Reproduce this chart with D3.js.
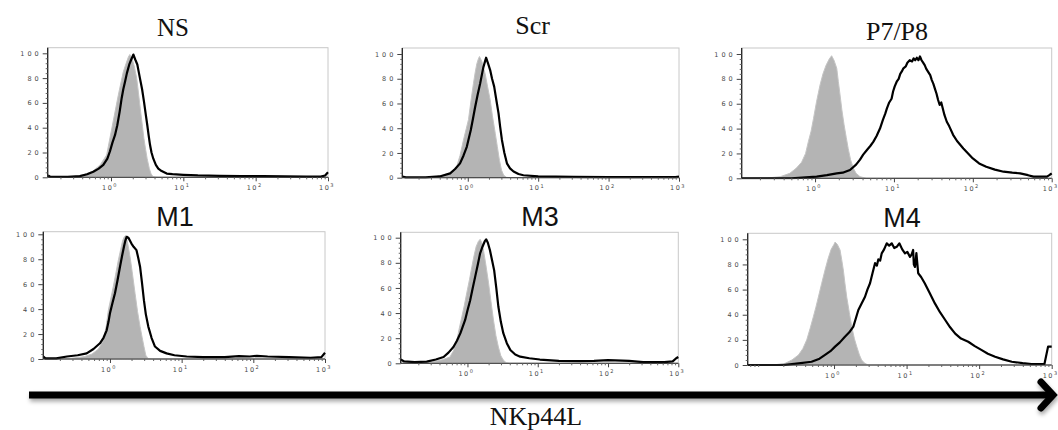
<!DOCTYPE html>
<html>
<head>
<meta charset="utf-8">
<script src="https://cdnjs.cloudflare.com/ajax/libs/d3/7.8.5/d3.min.js"></script>
<style>
  html, body { margin: 0; padding: 0; background: #fff; }
  svg { display: block; }
</style>
</head>
<body>
<svg id="chart" width="1058" height="430"></svg>
<script>
// ---------- DATA (x = log10 of fluorescence, y = % of max) ----------
const panelTitles = ["NS", "Scr", "P7/P8", "M1", "M3", "M4"];
const xTickExponents = [0, 1, 2, 3];
const yTickValues = [0, 20, 40, 60, 80, 100];
const axisTitle = "NKp44L";

const nsIsotype = [[-0.87,0],[-0.5,0.5],[-0.38,2],[-0.25,5],[-0.15,10],[-0.06,18],[0.01,39],[0.06,54],[0.10,66],[0.14,77],[0.17,85],[0.21,92],[0.24,97],[0.26,99],[0.29,96],[0.32,90],[0.355,80],[0.38,68],[0.41,53],[0.435,41],[0.456,31],[0.48,22],[0.50,15],[0.53,7],[0.553,3],[0.58,0.5],[0.65,0],[3,0]];
const nsStain = [[-0.87,1.5],[-0.84,0.5],[-0.6,0.3],[-0.43,1],[-0.33,2.5],[-0.245,4.5],[-0.17,7],[-0.106,10],[-0.05,15],[-0.014,21],[0.02,28],[0.055,34],[0.087,42],[0.12,53],[0.148,64],[0.17,71],[0.194,77],[0.22,84],[0.253,91],[0.28,95],[0.31,99],[0.335,95],[0.364,91],[0.38,86],[0.40,80],[0.43,71],[0.456,61],[0.48,51],[0.502,42],[0.52,34],[0.54,26],[0.56,20],[0.585,15],[0.62,10],[0.654,7],[0.7,5],[0.77,3],[0.85,2.5],[1.0,2],[1.2,1.5],[1.5,1.2],[1.8,1],[2.1,1],[2.4,0.8],[2.7,0.6],[2.9,0.5],[2.96,1.5],[3,4]];

const scrIsotype = [[-0.93,0],[-0.5,0.3],[-0.35,2],[-0.25,4],[-0.157,9],[-0.11,18],[-0.063,30],[-0.02,40],[0.01,47],[0.045,62],[0.08,76],[0.105,85],[0.128,92],[0.15,96],[0.166,98],[0.2,94],[0.247,84],[0.28,74],[0.318,63],[0.35,50],[0.39,36],[0.42,25],[0.45,14],[0.48,6],[0.51,2],[0.55,0.3],[0.6,0],[3,0]];
const scrStain = [[-0.93,1],[-0.88,0.3],[-0.6,0.2],[-0.4,1],[-0.25,3.5],[-0.18,7],[-0.11,11.6],[-0.06,18],[-0.014,25],[0.043,38.5],[0.075,48],[0.104,57],[0.14,67],[0.175,76],[0.22,89],[0.245,94],[0.26,97],[0.29,92],[0.318,87],[0.345,80],[0.375,73.6],[0.405,63],[0.437,52],[0.46,41],[0.485,30.5],[0.52,20],[0.556,11.6],[0.6,7.5],[0.65,5],[0.72,3],[0.79,2],[1.0,1],[1.5,0.6],[2,0.5],[2.5,0.5],[2.95,0.5],[3,1]];

const p7p8Isotype = [[-0.93,0],[-0.6,0.3],[-0.44,1.3],[-0.32,4],[-0.24,8],[-0.17,13],[-0.12,20],[-0.085,29.5],[-0.05,38],[-0.02,48],[0.02,62],[0.063,75],[0.1,84],[0.14,91],[0.18,96],[0.21,98.6],[0.24,95],[0.275,88.5],[0.295,78],[0.317,67],[0.34,55],[0.368,43],[0.395,33],[0.42,24],[0.45,15],[0.486,8],[0.52,4],[0.57,1.3],[0.65,0],[3,0]];
const p7p8Stain = [[-0.93,0],[-0.3,0],[0.02,1.3],[0.15,2.5],[0.275,4],[0.35,4.5],[0.443,6.7],[0.52,11],[0.57,15],[0.61,19],[0.66,23],[0.7,26],[0.74,29.5],[0.78,34],[0.823,40],[0.86,47],[0.89,52],[0.91,56],[0.94,61],[0.97,64],[0.99,70],[1.01,74],[1.035,77.7],[1.06,80],[1.08,84],[1.1,86],[1.12,88.5],[1.15,90],[1.17,93],[1.2,95],[1.23,94],[1.25,96.5],[1.27,95],[1.29,97],[1.31,95],[1.33,98],[1.35,95],[1.37,93],[1.39,91],[1.41,88],[1.43,86],[1.46,83],[1.48,79],[1.5,76],[1.52,72],[1.54,68],[1.56,63],[1.58,59],[1.6,61],[1.62,56],[1.64,51],[1.67,45.5],[1.7,42],[1.75,35],[1.8,30],[1.88,24],[1.94,20],[2.0,16],[2.08,12],[2.17,9.3],[2.28,7],[2.39,5.3],[2.5,4.5],[2.6,4],[2.7,2.5],[2.77,1.3],[2.85,1.3],[2.94,1.3],[2.97,2.5],[3,4]];

const m1Isotype = [[-0.93,0],[-0.55,0.5],[-0.35,2],[-0.25,4],[-0.16,8],[-0.093,15],[-0.05,27],[-0.023,39],[0.01,48],[0.046,58],[0.08,68],[0.116,79],[0.15,88],[0.177,95],[0.2,98],[0.223,99],[0.25,92],[0.28,82],[0.31,70],[0.35,52.7],[0.385,38],[0.42,26],[0.45,17],[0.474,10],[0.5,3],[0.53,0.5],[0.6,0],[3,0]];
const m1Stain = [[-0.93,2],[-0.9,0.5],[-0.75,0.5],[-0.6,2],[-0.45,3],[-0.325,4.5],[-0.23,8],[-0.14,12.6],[-0.09,17],[-0.046,23],[-0.02,30],[0,36.6],[0.035,45],[0.07,52.7],[0.105,63],[0.14,74],[0.17,83],[0.195,90],[0.215,95],[0.233,98],[0.26,97],[0.3,92.6],[0.33,90],[0.37,87.3],[0.395,81],[0.42,74],[0.445,62],[0.474,47],[0.5,36],[0.535,26],[0.58,17],[0.628,10],[0.7,6.5],[0.79,4.5],[0.9,3],[1.07,2],[1.3,1.5],[1.6,1.5],[1.8,2.3],[1.95,2],[2.05,2.5],[2.2,2],[2.5,1.5],[2.8,1],[2.95,1.5],[3,5]];

const m3Isotype = [[-0.95,0],[-0.5,1],[-0.35,3],[-0.25,5],[-0.2,10],[-0.15,18.5],[-0.12,27],[-0.08,37],[-0.045,46],[-0.01,56],[0.03,67],[0.063,77],[0.095,86],[0.124,93],[0.155,97],[0.18,98.7],[0.205,96],[0.228,90],[0.26,79],[0.3,64],[0.335,49],[0.37,34.5],[0.405,22],[0.44,13],[0.475,6],[0.51,2.6],[0.55,0.5],[0.6,0],[3,0]];
const m3Stain = [[-0.95,3],[-0.9,1.5],[-0.75,1],[-0.58,1.3],[-0.45,3],[-0.34,5],[-0.27,8.5],[-0.2,13],[-0.15,18],[-0.1,24],[-0.033,34.5],[0,42],[0.038,50],[0.075,60],[0.11,69],[0.145,78],[0.18,87.6],[0.215,93],[0.245,97],[0.266,98.7],[0.29,96],[0.32,90],[0.35,82],[0.38,74],[0.41,60],[0.44,45],[0.475,33],[0.51,24],[0.56,16],[0.61,10.6],[0.68,7],[0.75,5.3],[0.88,4],[1.03,3],[1.3,2],[1.6,1.8],[1.8,2],[2.0,2.5],[2.2,2.2],[2.3,2],[2.5,1],[2.8,1],[2.92,1.5],[2.97,4],[3,5]];

const m4Isotype = [[-1.19,0],[-0.8,0.3],[-0.675,1.3],[-0.58,4],[-0.49,8],[-0.43,13],[-0.376,20],[-0.33,29],[-0.285,38.4],[-0.25,46],[-0.216,54],[-0.17,65],[-0.124,75.6],[-0.08,85],[-0.04,92],[0.0,96],[0.014,97.8],[0.045,96],[0.083,91.5],[0.105,84],[0.128,75.6],[0.15,65],[0.175,54],[0.21,42],[0.244,30.5],[0.28,21],[0.313,14.6],[0.35,8],[0.38,4],[0.42,1.5],[0.47,0],[3,0]];
const m4Stain = [[-1.19,0],[-0.7,0],[-0.49,1.3],[-0.31,2.6],[-0.2,5],[-0.124,8],[-0.05,11],[0.014,14.6],[0.08,18],[0.15,22.5],[0.21,26],[0.266,30.5],[0.3,37],[0.335,43.8],[0.38,49],[0.427,54.3],[0.46,60],[0.496,65],[0.53,73],[0.565,81],[0.59,79],[0.61,84],[0.635,83],[0.657,88.8],[0.69,92],[0.726,96.8],[0.76,95],[0.795,96.8],[0.83,93],[0.864,94],[0.9,96.8],[0.94,92],[0.978,88.8],[1.01,90],[1.047,86],[1.07,88],[1.09,91.5],[1.1,80],[1.116,78],[1.135,89],[1.16,73],[1.2,70],[1.25,65],[1.32,57],[1.39,49],[1.46,42],[1.53,36],[1.6,30],[1.67,25],[1.75,21],[1.85,18.5],[1.94,15],[2.03,12],[2.12,9],[2.22,6.6],[2.33,4.5],[2.45,2.6],[2.6,1.5],[2.72,0.8],[2.9,0.8],[2.95,14.6],[3,14.6]];

const isotypeSeries = [nsIsotype, scrIsotype, p7p8Isotype, m1Isotype, m3Isotype, m4Isotype];
const stainSeries = [nsStain, scrStain, p7p8Stain, m1Stain, m3Stain, m4Stain];
const xDomainMin = [-0.875, -0.93, -0.93, -0.93, -0.95, -1.19];

// ---------- LAYOUT ----------
const layout = [
  {left:47.7,  right:328,    top:47.7,  y0:177.3, y100:53.3,  tx:173,   ty:36,   font:"serif", fs:25},
  {left:402.3, right:679,    top:48,    y0:177.7, y100:54,    tx:532.7, ty:33.5, font:"serif", fs:26},
  {left:741.7, right:1051.7, top:48,    y0:178.3, y100:54,    tx:897,   ty:40,   font:"serif", fs:26},
  {left:43.3,  right:325,    top:231.7, y0:359,   y100:234.3, tx:175,   ty:226,  font:"sans",  fs:27},
  {left:400.7, right:678.3,  top:232.3, y0:363.3, y100:237.7, tx:540,   ty:226,  font:"sans",  fs:27},
  {left:747.7, right:1051.7, top:233.3, y0:365,   y100:239.3, tx:902,   ty:226.5,font:"sans",  fs:27}
];

const svg = d3.select("#chart");
const defs = svg.append("defs");
const f = defs.append("filter").attr("id","shadow").attr("x","-5%").attr("y","-100%").attr("width","110%").attr("height","400%");
f.append("feDropShadow").attr("dx",1).attr("dy",3).attr("stdDeviation",2).attr("flood-color","#000").attr("flood-opacity",0.35);

const serif = "'Liberation Serif','Times New Roman',serif";
const sans = "'Liberation Sans',Arial,sans-serif";
const tickFont = "'DejaVu Sans',Verdana,sans-serif";

layout.forEach((L, i) => {
  const g = svg.append("g");
  const x = d3.scaleLinear().domain([xDomainMin[i], 3]).range([L.left, L.right]);
  const y = d3.scaleLinear().domain([0, 100]).range([L.y0, L.y100]);

  // frame
  g.append("rect")
    .attr("x", L.left).attr("y", L.top)
    .attr("width", L.right - L.left).attr("height", L.y0 - L.top)
    .attr("fill", "none").attr("stroke", "#c8c8c8").attr("stroke-width", 1);

  const clipId = "clip" + i;
  defs.append("clipPath").attr("id", clipId).append("rect")
    .attr("x", L.left).attr("y", L.top - 2).attr("width", L.right - L.left + 1).attr("height", L.y0 - L.top + 3);

  const area = d3.area().x(d => x(d[0])).y0(y(0)).y1(d => y(d[1]));
  const line = d3.line().x(d => x(d[0])).y(d => y(d[1]));

  const plot = g.append("g").attr("clip-path", `url(#${clipId})`);
  plot.append("path").datum(isotypeSeries[i])
    .attr("d", area).attr("fill", "#b4b4b4")
    .attr("stroke", "#c4c4c4").attr("stroke-width", 1);
  plot.append("path").datum(stainSeries[i])
    .attr("d", line).attr("fill", "none")
    .attr("stroke", "#000").attr("stroke-width", 2.2).attr("stroke-linejoin", "round");

  // y axis major
  const yAx = g.append("g").attr("transform", `translate(${L.left},0)`)
    .call(d3.axisLeft(y).tickValues(yTickValues).tickSize(5).tickPadding(3).tickFormat(d3.format("d")));
  yAx.select(".domain").attr("stroke", "#222").attr("stroke-width", 1.3).attr("d", `M0,${L.top}V${L.y0}`);
  yAx.selectAll(".tick line").attr("stroke", "#444");
  yAx.selectAll("text").attr("font-family", tickFont).attr("font-size", 6.5)
    .attr("letter-spacing", 3).attr("fill", "#4a4a4a").attr("dx", 2);
  // y minor ticks
  const yMinor = d3.range(0, 101, 4).filter(v => v % 20 !== 0);
  g.append("g").attr("transform", `translate(${L.left},0)`)
    .call(d3.axisLeft(y).tickValues(yMinor).tickSize(2).tickFormat(""))
    .call(s => s.select(".domain").remove())
    .selectAll(".tick line").attr("stroke", "#666");

  // x axis major
  const xAx = g.append("g").attr("transform", `translate(0,${L.y0})`)
    .call(d3.axisBottom(x).tickValues(xTickExponents).tickSize(4).tickPadding(4).tickFormat(""));
  xAx.select(".domain").attr("stroke", "#333").attr("d", `M${L.left},0H${L.right}`);
  xAx.selectAll(".tick line").attr("stroke", "#444");
  xAx.selectAll(".tick text").each(function(d) {
    const t = d3.select(this);
    t.text(null).attr("font-family", tickFont).attr("font-size", 6.5).attr("fill", "#4a4a4a")
      .attr("letter-spacing", 1.5).attr("dx", -1.5);
    t.append("tspan").text("10");
    t.append("tspan").attr("dy", -2.5).attr("font-size", 5).text(d);
  });
  // x minor ticks
  const xMinor = [];
  for (let dec = -2; dec < 3; dec++) {
    for (let k = 2; k <= 9; k++) {
      const v = dec + Math.log10(k);
      if (v > xDomainMin[i] && v < 3) xMinor.push(v);
    }
  }
  g.append("g").attr("transform", `translate(0,${L.y0})`)
    .call(d3.axisBottom(x).tickValues(xMinor).tickSize(2).tickFormat(""))
    .call(s => s.select(".domain").remove())
    .selectAll(".tick line").attr("stroke", "#666");

  // title
  g.append("text")
    .attr("x", L.tx).attr("y", L.ty)
    .attr("text-anchor", "middle")
    .attr("font-family", L.font === "serif" ? serif : sans)
    .attr("font-size", L.fs)
    .attr("fill", "#111")
    .text(panelTitles[i]);
});

// big arrow
const arrow = svg.append("g").attr("filter", "url(#shadow)");
arrow.append("line").attr("x1", 29).attr("y1", 395).attr("x2", 1050).attr("y2", 395)
  .attr("stroke", "#000").attr("stroke-width", 7);
arrow.append("path").attr("d", "M1041,382 L1053,395 L1041,408")
  .attr("fill", "none").attr("stroke", "#000").attr("stroke-width", 7)
  .attr("stroke-linecap", "round").attr("stroke-linejoin", "miter");

svg.append("text").attr("x", 536).attr("y", 425).attr("text-anchor", "middle")
  .attr("font-family", serif).attr("font-size", 26).attr("fill", "#111")
  .text(axisTitle);
</script>
</body>
</html>
